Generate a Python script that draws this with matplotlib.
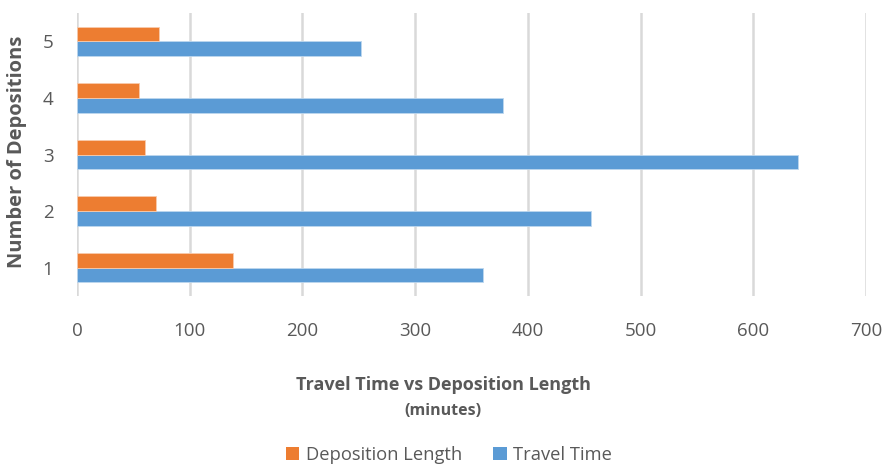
import matplotlib
matplotlib.use("Agg")
import matplotlib.pyplot as plt
import numpy as np
from matplotlib.patches import Patch

categories = ["1", "2", "3", "4", "5"]
deposition_length = [138, 70, 60, 55, 73]
travel_time = [360, 456, 640, 378, 252]
xticks = [0, 100, 200, 300, 400, 500, 600, 700]

orange = "#ED7D31"
blue = "#5B9BD5"
txt = "#595959"
grid = "#D9D9D9"

plt.rcParams['font.family'] = ['Open Sans', 'DejaVu Sans']

fig = plt.figure(figsize=(8.85, 4.68), dpi=100)
ax = fig.add_axes([77/885, 1-296/468, (866-77)/885, (296-13)/468])

y = np.arange(1, len(categories) + 1)
h = 0.26
ax.barh(y - h/2, travel_time, height=h, color=blue, edgecolor="#BDD7EE", linewidth=0.6, zorder=3)
ax.barh(y + h/2, deposition_length, height=h, color=orange, edgecolor="#F8CBAD", linewidth=0.6, zorder=3)

ax.set_xlim(0, 700)
ax.set_ylim(0.5, 5.5)
ax.set_xticks(xticks)
ax.set_xticklabels([str(v) for v in xticks])
ax.set_yticks(y)
ax.set_yticklabels(categories)
ax.xaxis.grid(True, color=grid, linewidth=1.8, zorder=0)
ax.set_axisbelow(True)
for s in ax.spines.values():
    s.set_visible(False)
ax.tick_params(axis='both', length=0, labelsize=13.5, colors=txt)
ax.tick_params(axis='x', pad=19)
ax.tick_params(axis='y', pad=17)

fig.text(17/885, 1-152/468, "Number of Depositions", rotation=90, ha='center', va='center',
         fontsize=14.5, fontweight='bold', color=txt)
fig.text(443/885, 1-385/468, "Travel Time vs Deposition Length", ha='center', va='center',
         fontsize=13, fontweight='bold', color=txt)
fig.text(443/885, 1-411/468, "(minutes)", ha='center', va='center',
         fontsize=11.5, fontweight='bold', color=txt)

handles = [Patch(facecolor=orange, edgecolor='none'), Patch(facecolor=blue, edgecolor='none')]
leg = fig.legend(handles, ["Deposition Length", "Travel Time"], loc='center',
                 bbox_to_anchor=(449/885, 1-455/468), ncol=2, frameon=False,
                 fontsize=13.2, handlelength=0.75, handleheight=0.75, handletextpad=0.35,
                 columnspacing=1.7, labelcolor=txt)

fig.savefig("out.png", dpi=100)
